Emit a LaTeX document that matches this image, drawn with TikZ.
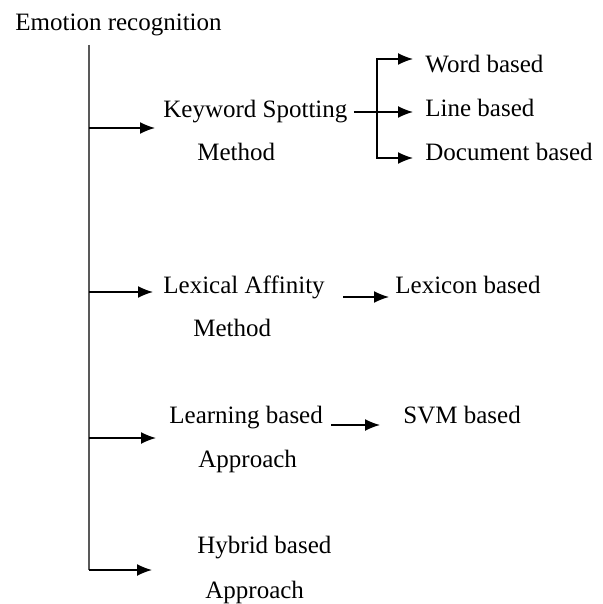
\documentclass[tikz,border=0pt]{standalone}
\usepackage{fontspec}
\setmainfont{Liberation Serif}
\usetikzlibrary{arrows.meta}

\begin{document}
\begin{tikzpicture}[x=0.5pt, y=-0.5pt,
    txt/.style={anchor=base west, inner xsep=3pt, inner ysep=0pt, font=\fontsize{12.5}{15}\selectfont},
    tip/.style={-{Latex[length=7.5pt,width=6pt]}, line width=0.75pt}]
    \useasboundingbox (0,0) rectangle (603,604);

    % Root and trunk
    \node[txt] (root) at (9,31) {Emotion recognition};
    \coordinate (top) at (89,45);
    \coordinate (t1) at (89,128);
    \coordinate (t2) at (89,292);
    \coordinate (t3) at (89,438);
    \coordinate (t4) at (89,570);
    \draw[black!65, line width=1pt] (top) -- (t4);

    % Arrow tips on the trunk branches
    \coordinate (a1) at (155,128);
    \coordinate (a2) at (153,292);
    \coordinate (a3) at (156,438);
    \coordinate (a4) at (152,570);
    \draw[tip] (t1) -- (a1);
    \draw[tip] (t2) -- (a2);
    \draw[tip] (t3) -- (a3);
    \draw[tip] (t4) -- (a4);

    % Methods
    \node[txt] (kwA) at (157,118) {Keyword Spotting};
    \node[txt] (kwB) at (191,161) {Method};
    \node[txt] (laA) at (157,293) {Lexical Affinity};
    \node[txt] (laB) at (187,336) {Method};
    \node[txt] (lbA) at (163,423) {Learning based};
    \node[txt] (lbB) at (192,467) {Approach};
    \node[txt] (hbA) at (191,553) {Hybrid based};
    \node[txt] (hbB) at (199,598) {Approach};

    % Leaves
    \node[txt] (word) at (419,73) {Word based};
    \node[txt] (line) at (419,117) {Line based};
    \node[txt] (doc) at (419,161) {Document based};
    \node[txt] (lex) at (389,293) {Lexicon based};
    \node[txt] (svm) at (397,423) {SVM based};

    % Keyword fork
    \coordinate (fork) at (377,112);
    \coordinate (f1) at (377,59);
    \coordinate (f3) at (377,158);
    \draw[line width=0.75pt] (kwA.east |- fork) -- (fork);
    \draw[tip, shorten >=3pt] (f3) -- (f1) -- (f1 -| word.west);
    \draw[tip, shorten >=3pt] (fork) -- (fork -| line.west);
    \draw[tip, shorten >=3pt] (f1) -- (f3) -- (f3 -| doc.west);

    % Single leaf arrows
    \draw[tip, shorten <=6pt] ([yshift=-2pt]laA.base east) -- ([yshift=-2pt]lex.base west);
    \draw[tip, shorten <=1pt, shorten >=8.5pt] ([yshift=-1pt]lbA.base east) -- ([yshift=-1pt]svm.base west);

\end{tikzpicture}
\end{document}
